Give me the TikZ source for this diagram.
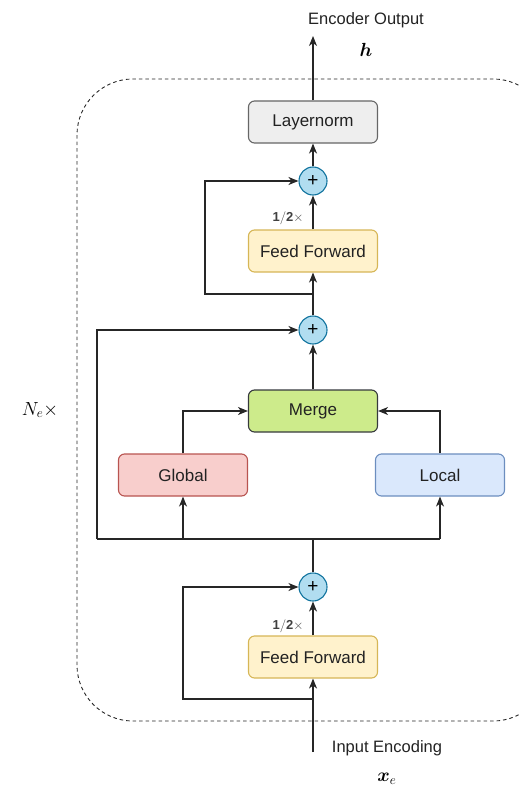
\RequirePackage{fix-cm}
\documentclass[tikz,border=0pt]{standalone}
\usepackage{fontspec}
\setmainfont{Liberation Sans}
\usepackage{amsmath}
\usepackage{bm}
\usetikzlibrary{arrows.meta,calc}

\definecolor{lnfill}{HTML}{EEEEEE}
\definecolor{lnline}{HTML}{666666}
\definecolor{fffill}{HTML}{FFF2CC}
\definecolor{ffline}{HTML}{D6B656}
\definecolor{mgfill}{HTML}{CDEB8B}
\definecolor{mgline}{HTML}{36393D}
\definecolor{glfill}{HTML}{F8CECC}
\definecolor{glline}{HTML}{B85450}
\definecolor{lcfill}{HTML}{DAE8FC}
\definecolor{lcline}{HTML}{6C8EBF}
\definecolor{addfill}{HTML}{B1DDF0}
\definecolor{addline}{HTML}{10739E}
\definecolor{txt}{HTML}{222222}

\tikzset{
  blockbox/.style={draw, line width=1.1pt, rounded corners=6pt,
    minimum width=129pt, minimum height=42pt, inner sep=0pt,
    text=txt, font=\fontsize{17}{20}\selectfont},
  addnode/.style={circle, draw=addline, fill=addfill, line width=1.1pt,
    minimum size=28pt, inner sep=0pt, font=\fontsize{19}{20}\selectfont},
  conn/.style={line width=1.1pt, draw=black!85},
  arr/.style={conn, -{Stealth[length=10pt,width=8pt,inset=3pt]}},
  lbl/.style={text=txt, font=\fontsize{16.5}{19}\selectfont},
  half/.style={text=black!75, font=\fontsize{13}{15}\selectfont},
}

\begin{document}
\begin{tikzpicture}[x=1pt,y=-1pt]
\useasboundingbox (0,0) rectangle (519,789);
\clip (0,0) rectangle (519,789);

% repeated encoder layer frame
\draw[line width=0.9pt, dash pattern=on 3.5pt off 3pt, black!85, rounded corners=56pt]
  (77,79) rectangle (549,721);
\node[font=\fontsize{19}{22}\selectfont] (nrep) at (40,410) {$N_e\times$};

% blocks
\node[blockbox, draw=lnline, fill=lnfill] (ln)  at (313,122) {Layernorm};
\node[addnode] (add1) at (313,181) {+};
\node[blockbox, draw=ffline, fill=fffill] (ff1) at (313,251) {Feed Forward};
\node[addnode] (add2) at (313,330) {+};
\node[blockbox, draw=mgline, fill=mgfill] (mg)  at (313,411) {Merge};
\node[blockbox, draw=glline, fill=glfill] (gl)  at (183,475) {Global};
\node[blockbox, draw=lcline, fill=lcfill] (lc)  at (440,475) {Local};
\node[addnode] (add3) at (313,587) {+};
\node[blockbox, draw=ffline, fill=fffill] (ff2) at (313,657) {Feed Forward};

% labels
\node[lbl] (outtxt) at (366,20) {Encoder Output};
\node[font=\fontsize{19}{22}\selectfont] (hvec) at (366,50) {$\bm{h}$};
\node[lbl] (intxt) at (387,748) {Input Encoding};
\node[font=\fontsize{19}{22}\selectfont] (xvec) at (387,779) {$\bm{x}_e$};
\node[half] (h1) at (288,218) {$\mathbf{1/2}\times$};
\node[half] (h2) at (288,626) {$\mathbf{1/2}\times$};

% junction points
\coordinate (top)   at (313,36);
\coordinate (in)    at (313,752);
\coordinate (br1)   at (313,294);
\coordinate (sk1)   at (205,294);
\coordinate (bus)   at (313,539);
\coordinate (busL)  at (97,539);
\coordinate (busG)  at (183,539);
\coordinate (busR)  at (440,539);
\coordinate (br3)   at (313,699);
\coordinate (sk3)   at (183,699);

% main path
\draw[arr] (ln.north) -- (top);
\draw[arr] (add1.north) -- (ln.south);
\draw[arr] (ff1.north) -- (add1.south);
\draw[arr] (add2.north) -- (ff1.south);
\draw[arr] (mg.north) -- (add2.south);
\draw[arr] (gl.north) |- (mg.west);
\draw[arr] (lc.north) |- (mg.east);
\draw[conn] (add3.north) -- (bus);
\draw[conn] (busL) -- (busR);
\draw[arr] (busG) -- (gl.south);
\draw[arr] (busR) -- (lc.south);
\draw[arr] (busL) |- (add2.west);
\draw[arr] (ff2.north) -- (add3.south);
\draw[arr] (in) -- (ff2.south);

% residual branches
\draw[arr] (br1) -- (sk1) |- (add1.west);
\draw[arr] (br3) -- (sk3) |- (add3.west);
\end{tikzpicture}
\end{document}
